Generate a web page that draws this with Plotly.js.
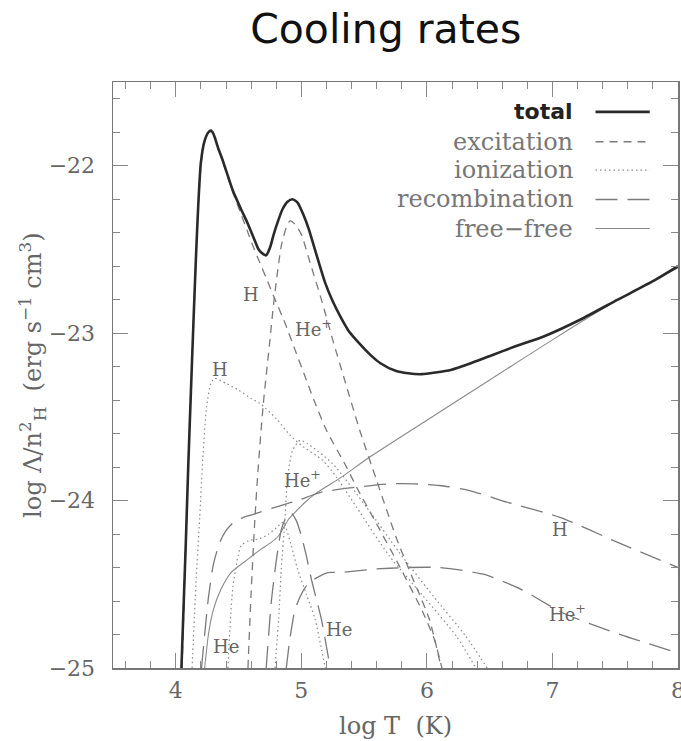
<!DOCTYPE html>
<html>
<head>
<meta charset="utf-8">
<script src="https://cdn.plot.ly/plotly-3.0.1.min.js"></script>
<style>html,body{margin:0;padding:0;background:#fff;}#chart{width:681px;height:741px;}</style>
</head>
<body>
<div id="chart"></div>
<script>
// ---------- data ----------
const totalX = [4.045, 4.08, 4.10, 4.12, 4.14, 4.16, 4.18, 4.20, 4.23, 4.26, 4.28, 4.30, 4.34, 4.37, 4.41, 4.455, 4.52, 4.573, 4.62, 4.66, 4.70, 4.72, 4.75, 4.78, 4.81, 4.85, 4.89, 4.93, 4.97, 5.015, 5.06, 5.10, 5.19, 5.25, 5.31, 5.38, 5.46, 5.55, 5.63, 5.75, 5.85, 5.96, 6.07, 6.19, 6.35, 6.49, 6.70, 6.93, 7.22, 7.52, 7.80, 8.0];
const totalY = [-25, -24.25, -23.78, -23.36, -22.95, -22.56, -22.22, -21.98, -21.85, -21.80, -21.79, -21.81, -21.90, -21.96, -22.05, -22.15, -22.26, -22.345, -22.43, -22.50, -22.53, -22.535, -22.49, -22.41, -22.34, -22.26, -22.215, -22.20, -22.22, -22.29, -22.38, -22.48, -22.70, -22.81, -22.90, -22.99, -23.06, -23.13, -23.18, -23.225, -23.24, -23.245, -23.235, -23.22, -23.18, -23.14, -23.08, -23.02, -22.92, -22.80, -22.69, -22.60];

const excHX = [4.05, 4.10, 4.14, 4.18, 4.22, 4.26, 4.28, 4.31, 4.35, 4.41, 4.46, 4.52, 4.57, 4.62, 4.67, 4.72, 4.78, 4.87, 4.95, 5.04, 5.10, 5.20, 5.36, 5.44, 5.60, 5.78, 5.97, 6.06, 6.12];
const excHY = [-25, -23.78, -22.96, -22.23, -21.87, -21.80, -21.80, -21.83, -21.92, -22.06, -22.17, -22.29, -22.39, -22.49, -22.58, -22.67, -22.78, -22.94, -23.10, -23.28, -23.40, -23.58, -23.80, -23.92, -24.14, -24.39, -24.67, -24.83, -25];

const excHepX = [4.575, 4.60, 4.63, 4.655, 4.695, 4.75, 4.78, 4.84, 4.88, 4.91, 4.95, 5.00, 5.07, 5.16, 5.25, 5.345, 5.465, 5.60, 5.76, 5.89, 6.02, 6.115];
const excHepY = [-25, -24.55, -24.11, -23.82, -23.44, -23.04, -22.82, -22.48, -22.37, -22.33, -22.35, -22.41, -22.58, -22.80, -23.04, -23.28, -23.58, -23.88, -24.23, -24.47, -24.71, -25];

const ionHX = [4.13, 4.16, 4.19, 4.215, 4.245, 4.28, 4.31, 4.40, 4.50, 4.60, 4.67, 4.80, 4.91, 5.00, 5.17, 5.28, 5.44, 5.70, 5.97, 6.235, 6.39];
const ionHY = [-25, -24.5, -24.11, -23.75, -23.44, -23.30, -23.27, -23.30, -23.34, -23.39, -23.42, -23.51, -23.61, -23.67, -23.76, -23.86, -24.04, -24.33, -24.57, -24.81, -25];

const ionHepX = [4.79, 4.82, 4.84, 4.87, 4.89, 4.93, 4.99, 5.05, 5.25, 5.52, 5.78, 6.05, 6.31, 6.48];
const ionHepY = [-25, -24.7, -24.41, -24.11, -23.86, -23.70, -23.64, -23.66, -23.78, -24.04, -24.31, -24.57, -24.81, -25];

const ionHeX = [4.415, 4.456, 4.52, 4.58, 4.655, 4.72, 4.79, 4.855, 4.92, 4.97, 5.04, 5.11, 5.19];
const ionHeY = [-25, -24.51, -24.27, -24.24, -24.23, -24.21, -24.17, -24.13, -24.27, -24.41, -24.56, -24.71, -25];

const recHX = [4.205, 4.23, 4.26, 4.30, 4.35, 4.40, 4.46, 4.54, 4.63, 4.79, 4.97, 5.16, 5.44, 5.70, 5.90, 6.10, 6.34, 6.64, 7.06, 7.52, 8.0];
const recHY = [-25, -24.80, -24.58, -24.38, -24.25, -24.18, -24.13, -24.10, -24.08, -24.04, -24.0, -23.95, -23.92, -23.90, -23.90, -23.91, -23.94, -24.01, -24.10, -24.25, -24.40];

const recHeX = [4.72, 4.74, 4.76, 4.79, 4.81, 4.84, 4.88, 4.92, 4.96, 5.0, 5.04, 5.08, 5.12, 5.16, 5.23];
const recHeY = [-25, -24.8, -24.61, -24.42, -24.31, -24.175, -24.10, -24.075, -24.12, -24.21, -24.33, -24.47, -24.59, -24.71, -25];

const recHepX = [4.88, 4.91, 4.95, 5.0, 5.04, 5.08, 5.21, 5.305, 5.57, 5.835, 6.10, 6.45, 6.75, 7.08, 7.5, 8.0];
const recHepY = [-25, -24.82, -24.65, -24.56, -24.51, -24.48, -24.43, -24.43, -24.41, -24.40, -24.40, -24.44, -24.53, -24.67, -24.79, -24.91];

const ffX = [4.23, 4.26, 4.30, 4.36, 4.44, 4.575, 4.68, 4.76, 4.82, 4.86, 4.90, 4.95, 5.03, 5.11, 5.32, 5.545, 6.0, 6.5, 7.0, 7.5, 8.0];
const ffY = [-25, -24.80, -24.65, -24.53, -24.43, -24.35, -24.29, -24.25, -24.21, -24.16, -24.11, -24.07, -24.01, -23.96, -23.86, -23.74, -23.52, -23.28, -23.04, -22.81, -22.61];

const curveLabelText = ['H', 'He<sup>+</sup>', 'H', 'He<sup>+</sup>', 'H', 'He<sup>+</sup>', 'He', 'He'];
const curveLabelX = [4.60, 5.10, 4.35, 5.01, 7.06, 7.12, 5.30, 4.40];
const curveLabelY = [-22.77, -22.97, -23.22, -23.87, -24.17, -24.67, -24.77, -24.87];

const legendLabels = ['total', 'excitation', 'ionization', 'recombination', 'free\u2212free'];
const xTickVals = [4, 5, 6, 7, 8];
const yTickVals = [-25, -24, -23, -22];
const xRange = [3.5, 8];
const yRange = [-25, -21.5];

// ---------- styles ----------
const GREY = '#7a7a7a';
const SERIF = '"DejaVu Serif", serif';
const styles = {
  total: {color: '#2a2a2a', width: 2.6, dash: 'solid'},
  exc:   {color: GREY, width: 1.3, dash: '8px,6px'},
  ion:   {color: '#8a8a8a', width: 1.2, dash: '1.5px,3px'},
  rec:   {color: GREY, width: 1.3, dash: '22px,10px'},
  ff:    {color: '#8a8a8a', width: 1.1, dash: 'solid'}
};

function line(x, y, st) {
  return {x: x, y: y, type: 'scatter', mode: 'lines', hoverinfo: 'skip', showlegend: false,
          line: {color: st.color, width: st.width, dash: st.dash, shape: 'spline', smoothing: 0.6}};
}

const traces = [
  line(ffX, ffY, styles.ff),
  line(recHX, recHY, styles.rec),
  line(recHeX, recHeY, styles.rec),
  line(recHepX, recHepY, styles.rec),
  line(ionHX, ionHY, styles.ion),
  line(ionHeX, ionHeY, styles.ion),
  line(ionHepX, ionHepY, styles.ion),
  line(excHX, excHY, styles.exc),
  line(excHepX, excHepY, styles.exc),
  line(totalX, totalY, styles.total),
  // empty trace that only brings up the mirrored top/right tick axes
  {x: [], y: [], type: 'scatter', mode: 'lines', xaxis: 'x2', yaxis: 'y2', hoverinfo: 'skip', showlegend: false}
];

// ---------- annotations ----------
const annotations = [];
curveLabelText.forEach((t, i) => annotations.push({
  x: curveLabelX[i], y: curveLabelY[i], xref: 'x', yref: 'y', text: t, showarrow: false,
  font: {family: SERIF, size: 18, color: '#666'}, xanchor: 'center', yanchor: 'middle'
}));

// legend (text left, sample line right, like the reference)
const legendRowY = [0.949, 0.898, 0.8497, 0.7995, 0.750];
const legendStyles = [styles.total, styles.exc, styles.ion, styles.rec, styles.ff];
const shapes = [];
legendLabels.forEach((t, i) => {
  annotations.push({
    x: 0.817, y: legendRowY[i], xref: 'paper', yref: 'paper', text: t, showarrow: false,
    xanchor: 'right', yanchor: 'middle',
    font: i === 0 ? {family: '"DejaVu Sans", sans-serif', size: 22, color: '#222', weight: 'bold'}
                  : {family: SERIF, size: 24, color: '#777'}
  });
  const st = legendStyles[i];
  shapes.push({type: 'line', xref: 'paper', yref: 'paper', x0: 0.854, x1: 0.950,
               y0: legendRowY[i], y1: legendRowY[i],
               line: {color: st.color, width: st.width, dash: st.dash}});
});

// axis titles
annotations.push({
  x: 0.5, y: -0.099, xref: 'paper', yref: 'paper', showarrow: false,
  text: 'log T  (K)', xanchor: 'center', yanchor: 'middle',
  font: {family: SERIF, size: 24, color: '#666'}
});
annotations.push({
  x: -0.1434, y: 0.5, xref: 'paper', yref: 'paper', showarrow: false, textangle: -90,
  text: 'log \u039B/n<sup>2</sup><sub>H</sub>  (erg s<sup>\u22121</sup> cm<sup>3</sup>)',
  xanchor: 'center', yanchor: 'middle',
  font: {family: SERIF, size: 24, color: '#666'}
});

function axisBase(tick0) {
  return {
    showgrid: false, zeroline: false, showline: true, linecolor: '#777', linewidth: 1.5,
    mirror: true, ticks: 'inside', ticklen: 15, tickwidth: 1.2, tickcolor: '#888',
    tickfont: {family: SERIF, size: 22, color: '#666'},
    minor: {dtick: 0.2, tick0: tick0, ticks: 'inside', ticklen: 7, tickwidth: 1, tickcolor: '#888'}
  };
}

const layout = {
  width: 681, height: 741,
  margin: {l: 113, r: 3, t: 82, b: 73},
  paper_bgcolor: '#fff', plot_bgcolor: '#fff',
  title: {text: 'Cooling rates', x: 0.5665, xref: 'container', xanchor: 'center',
          y: 0.961, yref: 'container', yanchor: 'middle',
          font: {family: '"DejaVu Sans", sans-serif', size: 41, color: '#111'}},
  xaxis: Object.assign(axisBase(4), {range: xRange, tickmode: 'array', tickvals: xTickVals,
          ticktext: xTickVals.map(String), ticklabelstandoff: 2, ticklabeloverflow: 'allow'}),
  yaxis: Object.assign(axisBase(-25), {range: yRange, tickmode: 'array', tickvals: yTickVals,
          ticktext: yTickVals.map(v => '\u2212' + Math.abs(v)), ticklabelstandoff: 12}),
  xaxis2: Object.assign(axisBase(4), {range: xRange, overlaying: 'x', side: 'top', anchor: 'y',
          tickmode: 'array', tickvals: xTickVals, showticklabels: false, showline: false}),
  yaxis2: Object.assign(axisBase(-25), {range: yRange, overlaying: 'y', side: 'right', anchor: 'x',
          tickmode: 'array', tickvals: yTickVals, showticklabels: false, showline: false}),
  showlegend: false,
  annotations: annotations,
  shapes: shapes,
  hovermode: false
};

Plotly.newPlot('chart', traces, layout, {staticPlot: true, displayModeBar: false});
</script>
</body>
</html>
